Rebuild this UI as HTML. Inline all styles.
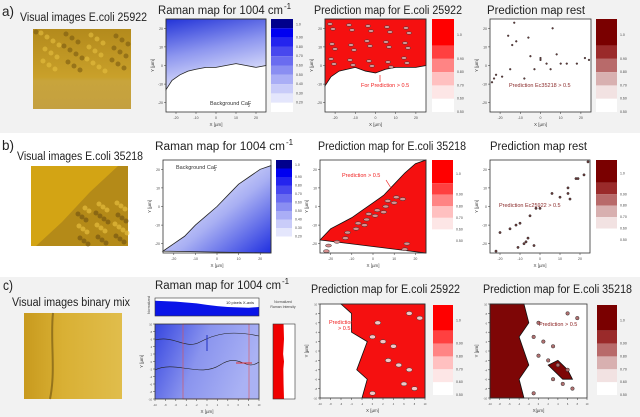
<!DOCTYPE html>
<html><head><meta charset="utf-8"><style>
html,body{margin:0;padding:0;background:#fff}
svg{display:block;font-family:"Liberation Sans","DejaVu Sans",sans-serif}
</style></head><body>
<svg id="fig" width="640" height="417" viewBox="0 0 640 417" xmlns="http://www.w3.org/2000/svg">
<defs>
<linearGradient id="gBlueA" x1="0" y1="0" x2="0.3" y2="1"><stop offset="0" stop-color="#2233d8"/><stop offset="0.5" stop-color="#8d96ef"/><stop offset="1" stop-color="#e6e8fc"/></linearGradient>
<linearGradient id="gBlueB" x1="1" y1="1" x2="0.2" y2="0.2"><stop offset="0" stop-color="#1f2fe0"/><stop offset="0.55" stop-color="#a8aff3"/><stop offset="1" stop-color="#eeeffd"/></linearGradient>
<linearGradient id="gBlueC" x1="0" y1="0" x2="1" y2="0.3"><stop offset="0" stop-color="#3646e0"/><stop offset="0.5" stop-color="#8a94ee"/><stop offset="1" stop-color="#aab2f4"/></linearGradient>
<linearGradient id="gImgA" x1="0" y1="0" x2="0" y2="1"><stop offset="0" stop-color="#b38a1c"/><stop offset="0.6" stop-color="#c9a02a"/><stop offset="0.65" stop-color="#c8a43c"/><stop offset="1" stop-color="#c4a040"/></linearGradient>
<linearGradient id="gImgC" x1="0" y1="0" x2="1" y2="0"><stop offset="0" stop-color="#c89a1e"/><stop offset="0.4" stop-color="#d9b034"/><stop offset="1" stop-color="#e0bd4c"/></linearGradient>
</defs>
<rect x="0" y="0" width="640" height="133" fill="#f2f2f2"/>
<rect x="0" y="277" width="640" height="140" fill="#f2f2f2"/>
<g id="root"></g>
</svg>
<script>
// ---- data arrays ----
const xTicksA = [-20,-10,0,10,20];
const yTicksA = [-20,-10,0,10,20];
const xTicksC = [-10,-8,-6,-4,-2,0,2,4,6,8,10];
const yTicksC = [-10,-8,-6,-4,-2,0,2,4,6,8,10];
const blueLevels = ["1.0","0.90","0.80","0.70","0.60","0.50","0.40","0.30","0.20",""];
const blueColors = ["#00008c","#0000f0","#2424ee","#4848ee","#6a6cf0","#8a8ef2","#aaaef6","#c9ccf9","#e4e6fc","#ffffff"];
const redLevels = ["1.0","0.90","0.80","0.70","0.60","0.50"];
const redColors = ["#ff0000","#ff4040","#ff8484","#ffc0c0","#fde6e6","#ffffff"];
const darkRedColors = ["#7a0000","#9a2a2a","#b86a6a","#d8b0b0","#f2e2e2","#ffffff"];
const rowABoundaryX = [-25,-22,-18,-14,-10,-5,0,5,10,15,20,25];
const rowARamanY   = [-13,-8,-5,-3,-2,-1,-1,0,1,0,-1,0];
const rowAPredY    = [-11,-6,-3,-2,-1,-3,-4,-2,-1,-1,-1,0];
const rowBBoundaryX = [-25,-20,-15,-10,-5,0,5,10,15,20,25];
const rowBRamanY   = [-24,-20,-16,-10,-5,0,6,12,16,20,22];
const rowBPredY    = [-18,-12,-9,-6,-2,2,6,12,18,23,25];
const restADotsX = [-22,-19,-15,-14,-12,-8,-5,-3,0,0,3,5,6,8,10,13,18,22,24,-24,-23,-13,-16,-6];
const restADotsY = [-5,-6,-2,11,13,-7,5,-2,4,3,1,-2,20,6,1,1,1,4,3,-9,-7,23,16,15];
const restBDotsX = [-22,-20,-15,-12,-10,-8,-6,-5,-3,-2,0,6,10,14,14,15,18,19,22,24,-7,-11];
const restBDotsY = [-24,-14,-12,-10,-9,-20,-17,-5,-21,-1,-1,7,5,10,7,4,15,15,17,24,-19,-22];
const profileX = [-10,-6,-2,0,2,4,6,8,10];
const profileTop = [0.85,0.8,0.7,0.62,0.55,0.5,0.48,0.46,0.5];
const profileRightY = [-10,-6,-2,0,2,6,10];
const profileRight = [0.5,0.48,0.47,0.5,0.46,0.5,0.48];
const predC1X = [10,10,-2,-1,-3,-2,-1,-4,-4,-6,-2];
const predC1Y = [10,-10,-10,-6,-4,-1,2,4,8,10,10];
const predC2X = [-10,-3,-2,-4,-3,-2,-4,-3,-10];
const predC2Y = [10,10,6,3,0,-3,-6,-10,-10];
const blobX = [2,4,6,7,5,3,2];
const blobY = [-3,-2,-4,-6,-6,-4,-3];

const NS="http://www.w3.org/2000/svg";
const root=document.getElementById('root');
function el(tag,attrs,parent){const e=document.createElementNS(NS,tag);for(const k in attrs)e.setAttribute(k,attrs[k]);(parent||root).appendChild(e);return e;}
function txt(s,x,y,size,attrs){const t=el('text',Object.assign({x:x,y:y,'font-size':size,fill:'#222'},attrs||{}));t.textContent=s;return t;}
function axes(x0,y0,x1,y1,xd,yd){return {sx:v=>x0+(v-xd[0])/(xd[1]-xd[0])*(x1-x0),sy:v=>y1-(v-yd[0])/(yd[1]-yd[0])*(y1-y0),x0,y0,x1,y1};}
function frame(a,name,xt,yt,fs,xlab){
  const r=el('rect',{x:a.x0,y:a.y0,width:a.x1-a.x0,height:a.y1-a.y0,fill:'none',stroke:'#333','stroke-width':0.8});
  
  
  xt.forEach(v=>{const x=a.sx(v);el('line',{x1:x,x2:x,y1:a.y1,y2:a.y1+2,stroke:'#333','stroke-width':0.5});
    const t=txt(String(v),x,a.y1+7,fs,{'text-anchor':'middle',fill:'#444'});
    
    });
  yt.forEach(v=>{const y=a.sy(v);el('line',{x1:a.x0-2,x2:a.x0,y1:y,y2:y,stroke:'#333','stroke-width':0.5});
    const t=txt(String(v),a.x0-3,y+1.5,fs,{'text-anchor':'end',fill:'#444'});
    
    });
  const xl=txt(xlab||'X [µm]',(a.x0+a.x1)/2,a.y1+14,4.5,{'text-anchor':'middle',fill:'#444'});
  
  
  const yl=txt('Y [µm]',0,0,4.5,{'text-anchor':'middle',fill:'#444',transform:`translate(${a.x0-12},${(a.y0+a.y1)/2}) rotate(-90)`});
  
  
}
function colorbar(x,y,w,h,colors,labels,name,first){
  const n=colors.length;const f=first||1;const unit=h/(n-1+f);let yy=y;
  colors.forEach((c,i)=>{const hi=i===0?unit*f:unit;
    const r=el('rect',{x:x,y:yy,width:w,height:hi,fill:c});
    
    
    if(labels[i]){const t=txt(labels[i],x+w+3,yy+(i===0?hi*0.6:hi)+1,3.5,{fill:'#444'});
      
      }
    yy+=hi;});
}
function poly(a,xs,ys,fill,stroke,name){
  const p=el('polygon',{points:xs.map((x,i)=>a.sx(x)+','+a.sy(ys[i])).join(' '),fill:fill,stroke:stroke||'none','stroke-width':0.8});
  
  
  return p;
}
function dots(a,xs,ys,r,name){xs.forEach((x,i)=>{const c=el('circle',{cx:a.sx(x),cy:a.sy(ys[i]),r:r,fill:'#6a3a3a',stroke:'#222','stroke-width':0.4});
  
  });}
function title(s,x,y,w,name,size){const t=txt(s,x,y,size||11.5,{textLength:w,lengthAdjust:'spacingAndGlyphs',fill:'#222'});return t;}
function ramanTitle(x,y,w,name){const t=title('Raman map for 1004 cm',x,y,w,name);const s=txt('-1',x+w+1,y-5,8,{fill:'#222'});}

// ===== Row a =====
title('a)',2,16,12,'panel-a-label',14);
title('Visual images E.coli 25922',20,21,127,'row-a-image-title');
let r=el('rect',{x:33,y:29,width:98,height:80,fill:'url(#gImgA)'});
for(let i=0;i<40;i++){el('circle',{cx:36+(i*23)%94,cy:32+(i*13)%40,r:2.5,fill:(i%2?'#e6c040':'#7a5a10'),opacity:0.6});}
ramanTitle(158,14,125,'row-a-raman-title');
let A=axes(166,19,266,112,[-25,25],[-25,25]);
el('rect',{x:166,y:19,width:100,height:93,fill:'#fff'});
poly(A,rowABoundaryX.concat([25,-25]),rowARamanY.concat([25,25]),'url(#gBlueA)','#222','row-a-raman-fill');
txt('Background CaF',210,105,5.5,{fill:'#333'});txt('2',248,107,4,{fill:'#333'});
frame(A,'row-a-raman',xTicksA,yTicksA,3.5);
colorbar(271,19,22,93,blueColors,blueLevels,'row-a-raman-colorbar');
title('Prediction map for E.coli 25922',314,14,148,'row-a-pred-title');
A=axes(325,19,426,112,[-25,25],[-25,25]);
el('rect',{x:325,y:19,width:101,height:93,fill:'#fff'});
poly(A,rowABoundaryX.concat([25,-25]),rowAPredY.concat([25,25]),'#f51010','#111','row-a-pred-fill');
for(let i=0;i<30;i++){el('ellipse',{cx:330+(i*37)%92,cy:24+(i*17)%50,rx:2.5,ry:1.2,fill:'#e0a0a0',stroke:'#333','stroke-width':0.5});}
txt('For Prediction > 0.5',361,87,5.5,{fill:'#f02020'});
el('line',{x1:380,y1:82,x2:380,y2:75,stroke:'#f02020','stroke-width':0.7});
frame(A,'row-a-pred',xTicksA,yTicksA,3.5);
colorbar(432,19,22,93,redColors,redLevels,'row-a-pred-colorbar',2);
title('Prediction map rest',487,14,98,'row-a-rest-title');
A=axes(490,19,591,112,[-25,25],[-25,25]);
el('rect',{x:490,y:19,width:101,height:93,fill:'#fff'});
dots(A,restADotsX,restADotsY,0.9,'row-a-rest-spot');
txt('Prediction Ec35218 > 0.5',509,87,5.5,{fill:'#8a2a2a'});
frame(A,'row-a-rest',xTicksA,yTicksA,3.5);
colorbar(596,19,21,93,darkRedColors,redLevels,'row-a-rest-colorbar',2);

// ===== Row b =====
title('b)',2,150,12,'panel-b-label',14);
title('Visual images E.coli 35218',17,160,126,'row-b-image-title');
r=el('rect',{x:31,y:166,width:97,height:80,fill:'#d3a414'});
el('polygon',{points:'31,246 128,246 128,166 118,166 90,192 62,222 36,246',fill:'#b48a18'});
for(let i=0;i<40;i++){const cx=70+(i*19)%58,cy=200+(i*11)%45;if(cy>246-((cx-31)*0.82)&&cy<246)el('circle',{cx:cx,cy:cy,r:2.5,fill:(i%2?'#ecc442':'#6e5010'),opacity:0.6});}
ramanTitle(155,150,130,'row-b-raman-title');
A=axes(163,160,271,253,[-25,25],[-25,25]);
el('rect',{x:163,y:160,width:108,height:93,fill:'#fff'});
poly(A,rowBBoundaryX.concat([25]),rowBRamanY.concat([-25]),'url(#gBlueB)','#222','row-b-raman-fill');
txt('Background CaF',176,169,5.5,{fill:'#333'});txt('2',214,171,4,{fill:'#333'});
frame(A,'row-b-raman',xTicksA,yTicksA,3.5);
colorbar(276,160,16,85,blueColors,blueLevels,'row-b-raman-colorbar');
title('Prediction map for E.coli 35218',318,150,148,'row-b-pred-title');
A=axes(320,160,426,253,[-25,25],[-25,25]);
el('rect',{x:320,y:160,width:106,height:93,fill:'#fff'});
poly(A,rowBBoundaryX.concat([25]),rowBPredY.concat([-25]),'#f51010','#111','row-b-pred-fill');
for(let i=0;i<25;i++){const x=-22+(i*9)%40,y=-24+(i*7)%30;if(y<x*0.9-2)el('ellipse',{cx:A.sx(x),cy:A.sy(y),rx:3,ry:1.5,fill:'#d89090',stroke:'#333','stroke-width':0.5});}
txt('Prediction > 0.5',342,177,5.5,{fill:'#f02020'});
el('line',{x1:386,y1:180,x2:391,y2:188,stroke:'#f02020','stroke-width':0.7});
frame(A,'row-b-pred',xTicksA,yTicksA,3.5);
colorbar(432,160,21,81,redColors,redLevels,'row-b-pred-colorbar',2);
title('Prediction map rest',490,150,97,'row-b-rest-title');
A=axes(490,160,590,253,[-25,25],[-25,25]);
el('rect',{x:490,y:160,width:100,height:93,fill:'#fff'});
dots(A,restBDotsX,restBDotsY,1.2,'row-b-rest-spot');
txt('Prediction Ec25922 > 0.5',499,207,5.5,{fill:'#8a2a2a'});
frame(A,'row-b-rest',xTicksA,yTicksA,3.5);
colorbar(596,160,21,80,darkRedColors,redLevels,'row-b-rest-colorbar',2);

// ===== Row c =====
title('c)',3,290,10,'panel-c-label',14);
title('Visual images binary mix',12,306,118,'row-c-image-title');
r=el('rect',{x:24,y:313,width:98,height:86,fill:'url(#gImgC)'});
el('path',{d:'M53,313 C50,340 56,370 50,399',stroke:'#6a5010','stroke-width':2,fill:'none',opacity:0.6});
ramanTitle(155,289,126,'row-c-raman-title');
let P=axes(155,298,259,316,[-10,10],[0,1]);
el('rect',{x:155,y:298,width:104,height:18,fill:'#fff'});
poly(P,profileX.concat([10,-10]),profileTop.concat([0,0]),'#0a14e8',null,'row-c-top-profile');
el('rect',{x:155,y:298,width:104,height:18,fill:'none',stroke:'#333','stroke-width':0.6});
txt('10 pixels X-axis',226,304,4,{fill:'#222'});
txt('Normalized',150,305,3.5,{'text-anchor':'middle',transform:'rotate(-90 150 305)',fill:'#444'});
A=axes(155,324,259,399,[-10,10],[-10,10]);
el('rect',{x:155,y:324,width:104,height:75,fill:'url(#gBlueC)'});
el('path',{d:'M155,340 C175,335 185,350 200,342 S230,330 259,336 M155,370 C175,360 200,378 220,365 S245,372 259,362',stroke:'#222','stroke-width':0.6,fill:'none'});
el('rect',{x:183,y:324,width:66,height:75,fill:'none',stroke:'#e05050','stroke-width':0.6});
el('line',{x1:236,y1:363,x2:252,y2:363,stroke:'#e03030','stroke-width':1});
el('line',{x1:207,y1:335,x2:207,y2:351,stroke:'#2030c0','stroke-width':1});
frame(A,'row-c-raman',xTicksC,yTicksC,2.5);
P=axes(273,324,295,399,[0,1],[-10,10]);
el('rect',{x:273,y:324,width:22,height:75,fill:'#fff'});
poly(P,[0].concat(profileRight,[0]),[-10].concat(profileRightY,[10]),'#f00000',null,'row-c-right-profile');
el('rect',{x:273,y:324,width:22,height:75,fill:'none',stroke:'#333','stroke-width':0.6});
txt('Normalized',283,303,3.5,{'text-anchor':'middle',fill:'#444'});
txt('Raman Intensity',283,308,3.5,{'text-anchor':'middle',fill:'#444'});
title('Prediction map for E.coli 25922',311,293,149,'row-c-pred1-title');
A=axes(320,304,425,398,[-10,10],[-10,10]);
el('rect',{x:320,y:304,width:105,height:94,fill:'#fff'});
poly(A,predC1X,predC1Y,'#f51010','#111','row-c-pred1-fill');
for(let i=0;i<12;i++){el('ellipse',{cx:A.sx(0+(i*7)%10),cy:A.sy(-9+(i*5)%19),rx:3,ry:2,fill:'#f4c4c4',stroke:'#333','stroke-width':0.5});}
txt('Prediction',329,324,5.5,{fill:'#f02020'});txt('> 0.5',338,330,5.5,{fill:'#f02020'});
frame(A,'row-c-pred1',xTicksC,yTicksC,2.5);
colorbar(433,305,20,90,redColors,redLevels,'row-c-pred1-colorbar',2);
title('Prediction map for E.coli 35218',483,293,149,'row-c-pred2-title');
A=axes(490,304,587,398,[-10,10],[-10,10]);
el('rect',{x:490,y:304,width:97,height:94,fill:'#fff'});
poly(A,predC2X,predC2Y,'#7e0606','#111','row-c-pred2-fill');
poly(A,blobX,blobY,'#7e0606','#111','row-c-pred2-blob');
for(let i=0;i<14;i++){el('circle',{cx:A.sx(-1+(i*7)%10),cy:A.sy(-9+(i*5)%19),r:1.8,fill:'#b07070',stroke:'#333','stroke-width':0.5});}
txt('Prediction > 0.5',539,326,5.5,{fill:'#8a2020'});
frame(A,'row-c-pred2',xTicksC,yTicksC,2.5,'X[µm]');
colorbar(597,305,20,90,darkRedColors,redLevels,'row-c-pred2-colorbar',2);
</script>
</body></html>
